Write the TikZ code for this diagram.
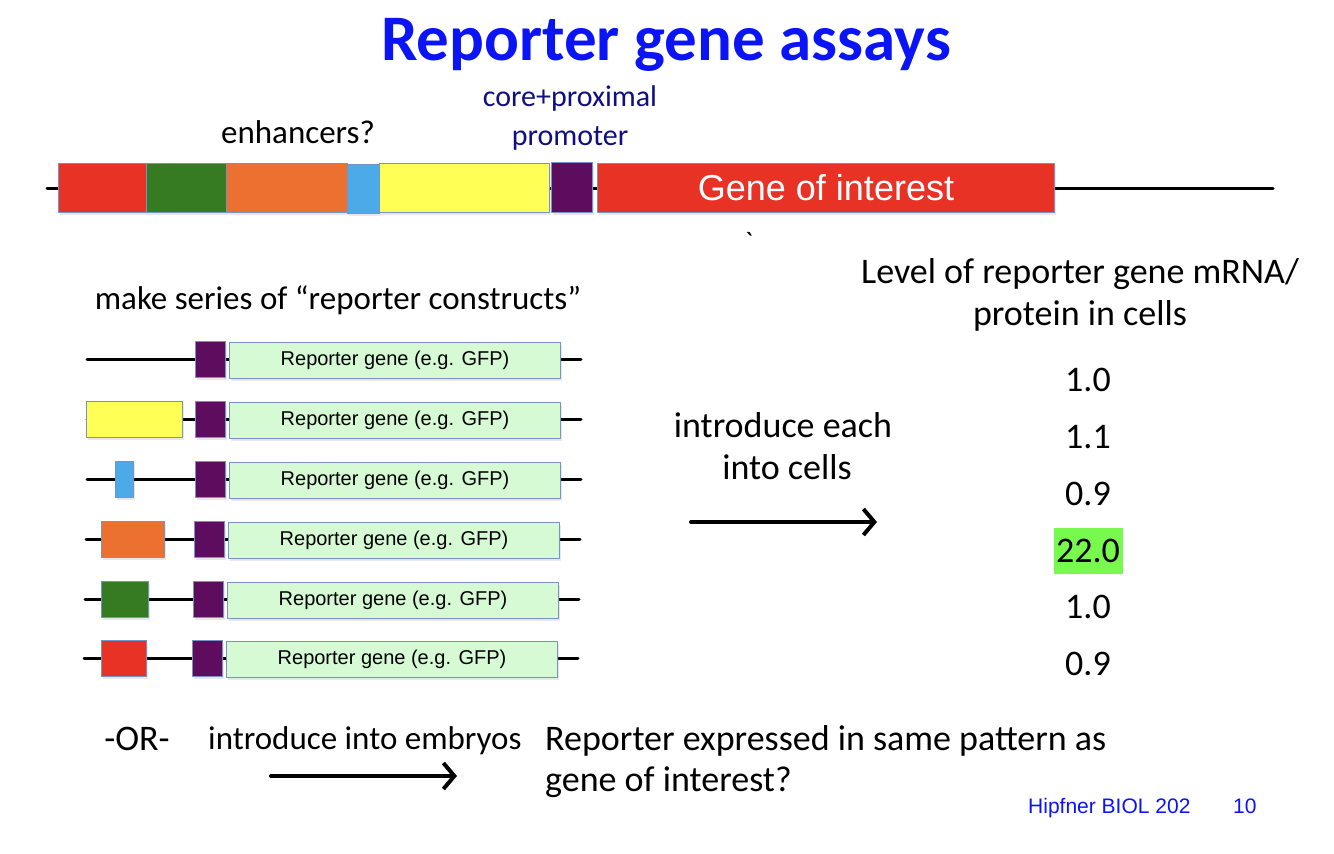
\documentclass[tikz,border=0pt]{standalone}
\usepackage{fontspec}
\setmainfont{Carlito}
\newfontfamily\arialfont{Liberation Sans}
\newfontfamily\gravefont[Ligatures=TeXOff]{Carlito}
\usetikzlibrary{arrows.meta,shadows}
\definecolor{segred}{RGB}{233,50,38}
\definecolor{seggreen}{RGB}{54,123,34}
\definecolor{segorange}{RGB}{236,113,48}
\definecolor{segblue}{RGB}{77,170,232}
\definecolor{segyellow}{RGB}{255,255,85}
\definecolor{segpurple}{RGB}{94,12,94}
\definecolor{gfpfill}{RGB}{214,250,212}
\definecolor{segedge}{RGB}{117,147,201}
\definecolor{titleblue}{RGB}{10,20,245}
\definecolor{navy}{RGB}{15,15,128}
\definecolor{hlgreen}{RGB}{119,249,78}
\begin{document}
\begin{tikzpicture}[x=1pt,y=-1pt,line join=round,line cap=round,>={Straight Barb[length=11,width=26]}]
	\tikzset{
		seg/.style={draw=segedge,line width=1,inner sep=0,anchor=west,minimum height=49,
			drop shadow={opacity=0.18,shadow xshift=1pt,shadow yshift=-2.5pt}},
		cons/.style={seg,minimum height=36},
		dna/.style={line width=3,black},
		arr/.style={->,line width=4,black},
		bigtxt/.style={font=\fontsize{36}{40}\selectfont},
		midtxt/.style={font=\fontsize{33}{38}\selectfont},
		gfptxt/.style={font=\arialfont\fontsize{20}{24}\selectfont}
	}
	\useasboundingbox (0,0) rectangle (1334,854);
	% title and labels
	\node[anchor=base,text=titleblue,font=\bfseries\fontsize{65}{76}\selectfont] (title) at (666,60) {Reporter gene assays};
	\node[anchor=base,midtxt] (enh) at (298,143) {enhancers?};
	\node[anchor=base,text=navy,font=\fontsize{30}{36}\selectfont] (core) at (570,106) {core+proximal};
	\node[anchor=base,text=navy,font=\fontsize{30}{36}\selectfont] (prom) at (570,145) {promoter};
	% the gene
	\coordinate (dnaL) at (47,188);
	\coordinate (dnaR) at (1273,188);
	\draw[dna] (dnaL) -- (dnaR);
	\node[seg,fill=segred,minimum width=88] (e1) at (58,188) {};
	\node[seg,fill=seggreen,minimum width=80] (e2) at (146,188) {};
	\node[seg,fill=segorange,minimum width=121] (e3) at (226,188) {};
	\node[seg,fill=segblue,minimum width=32] (e4) at (347,189) {};
	\node[seg,fill=segyellow,minimum width=170] (e5) at (379,188) {};
	\node[seg,fill=segpurple,minimum width=41,minimum height=50] (prm) at (551,187) {};
	\node[seg,fill=segred,minimum width=457,text=white,font=\arialfont\fontsize{36}{40}\selectfont] (goi) at (597,188) {Gene of interest};
	\node[font=\gravefont\fontsize{28}{30}\selectfont] (tick) at (749,242) {`};
	% reporter constructs
	\node[anchor=base,midtxt] (series) at (338,309) {make series of “reporter constructs”};
	\foreach \row/\y/\dx in {1/359/0,2/419/0,3/479/0,4/539/-1,5/599/-2,6/658/-3}{
		\coordinate (l\row) at (87+\dx,\y);
		\coordinate (r\row) at (581+\dx,\y);
		\draw[dna] (l\row) -- (r\row);
		\node[cons,fill=segpurple,minimum width=30] (p\row) at (195+\dx,\y) {};
		\node[cons,fill=gfpfill,minimum width=331,gfptxt] (gfp\row) at (229+\dx,\y+1) {Reporter gene (e.g. GFP)};
	}
	\node[cons,fill=segyellow,minimum width=96] (c2) at (86,419) {};
	\node[cons,fill=segblue,minimum width=18] (c3) at (115,479) {};
	\node[cons,fill=segorange,minimum width=63] (c4) at (101,539) {};
	\node[cons,fill=seggreen,minimum width=47] (c5) at (101,599) {};
	\node[cons,fill=segred,minimum width=45] (c6) at (101,658) {};
	% into cells
	\node[anchor=base,bigtxt] (intro1) at (783,437) {introduce each};
	\node[anchor=base,bigtxt] (intro2) at (787,479) {into cells};
	\coordinate (a1s) at (691,522);
	\coordinate (a1e) at (877,522);
	\draw[arr] (a1s) -- (a1e);
	% levels
	\node[anchor=base,bigtxt] (lvl1) at (1080,283) {Level of reporter gene mRNA/};
	\node[anchor=base,bigtxt] (lvl2) at (1080,325) {protein in cells};
	\foreach \v/\y [count=\i] in {1.0/380,1.1/437,0.9/494,22.0/551,1.0/607,0.9/664}{
		\node[bigtxt,inner sep=0,minimum width=69,minimum height=46] (v\i) at (1088,\y) {\v};
	}
	\node[fill=hlgreen,inner sep=0,minimum width=69,minimum height=46,bigtxt] (v4) at (1088,551) {22.0};
	% embryos
	\node[anchor=base,bigtxt] (or) at (137,750) {-OR-};
	\node[anchor=base west,midtxt,inner sep=0] (emb) at (208,749) {introduce into embryos};
	\coordinate (a2s) at (271,776);
	\coordinate (a2e) at (457,776);
	\draw[arr] (a2s) -- (a2e);
	\node[anchor=base west,bigtxt,inner sep=0] (expr1) at (545,750) {Reporter expressed in same pattern as};
	\node[anchor=base west,bigtxt,inner sep=0] (expr2) at (545,791) {gene of interest?};
	\node[anchor=base west,inner sep=0,text=titleblue,font=\arialfont\fontsize{21}{24}\selectfont] (credit) at (1028,813) {Hipfner BIOL 202};
	\node[anchor=base west,inner sep=0,text=titleblue,font=\arialfont\fontsize{21}{24}\selectfont] (page) at (1233,813) {10};
\end{tikzpicture}
\end{document}
